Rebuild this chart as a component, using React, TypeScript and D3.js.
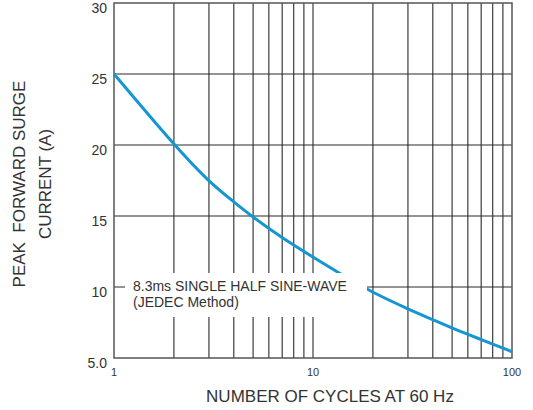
import React, { useEffect, useRef } from 'react';
import * as d3 from 'd3';

const cycles = [1, 2, 3, 4, 5, 7, 10, 15, 20, 30, 40, 50, 70, 100];
const current = [25, 20, 17.4, 16.0, 14.9, 13.45, 12.1, 10.6, 9.6, 8.45, 7.7, 7.1, 6.3, 5.44];
const yTicks = [5, 10, 15, 20, 25, 30];
const xLabels = [1, 10, 100];
const noteLines = ['8.3ms SINGLE HALF SINE-WAVE', '(JEDEC Method)'];

const W = 533;
const H = 410;
const left = 114;
const right = 512;
const top = 3;
const bottom = 358;

const App = () => {
  const svgRef = useRef<SVGSVGElement>(null);

  useEffect(() => {
    const svg = d3.select(svgRef.current);
    svg.selectAll('*').remove();

    const x = d3.scaleLog().domain([1, 100]).range([left, right]);
    const y = d3.scaleLinear().domain([5, 30]).range([bottom, top]);
    const font = 'Liberation Sans, Arial, sans-serif';

    // vertical grid: 2..9, 10, 20..90
    const vgrid: number[] = [];
    for (let d = 1; d < 100; d *= 10) {
      for (let k = 2; k <= 10; k++) vgrid.push(k * d);
    }
    svg
      .append('g')
      .selectAll('line')
      .data(vgrid.filter((v) => v < 100))
      .join('line')
      .attr('x1', (d) => x(d))
      .attr('x2', (d) => x(d))
      .attr('y1', top)
      .attr('y2', bottom)
      .attr('stroke', '#2a2a2a')
      .attr('stroke-width', 1.1);

    svg
      .append('g')
      .selectAll('line')
      .data(yTicks.slice(1, -1))
      .join('line')
      .attr('x1', left)
      .attr('x2', right)
      .attr('y1', (d) => y(d))
      .attr('y2', (d) => y(d))
      .attr('stroke', '#2a2a2a')
      .attr('stroke-width', 1.1);

    svg
      .append('rect')
      .attr('x', left)
      .attr('y', top)
      .attr('width', right - left)
      .attr('height', bottom - top)
      .attr('fill', 'none')
      .attr('stroke', '#555')
      .attr('stroke-width', 1.5);

    const line = d3
      .line<number>()
      .x((_, i) => x(cycles[i]))
      .y((d) => y(d))
      .curve(d3.curveBasis);

    svg
      .append('path')
      .attr('d', line(current))
      .attr('fill', 'none')
      .attr('stroke', '#1496d4')
      .attr('stroke-width', 3);

    // note box
    svg
      .append('rect')
      .attr('x', 125)
      .attr('y', 273)
      .attr('width', 242)
      .attr('height', 44)
      .attr('fill', '#fff');

    svg
      .append('g')
      .selectAll('text')
      .data(noteLines)
      .join('text')
      .attr('x', 133)
      .attr('y', (_, i) => 291 + i * 16)
      .attr('font-family', font)
      .attr('font-size', 14)
      .attr('fill', '#333')
      .text((d) => d);

    svg
      .append('g')
      .selectAll('text')
      .data(yTicks)
      .join('text')
      .attr('x', 107)
      .attr('y', (d) => y(d) + 10)
      .attr('text-anchor', 'end')
      .attr('font-family', font)
      .attr('font-size', 14)
      .attr('fill', '#333')
      .text((d) => (d === 5 ? '5.0' : String(d)));

    svg
      .append('g')
      .selectAll('text')
      .data(xLabels)
      .join('text')
      .attr('x', (d) => x(d))
      .attr('y', 376)
      .attr('text-anchor', 'middle')
      .attr('font-family', font)
      .attr('font-size', 11)
      .attr('fill', '#333')
      .text((d) => String(d));

    svg
      .append('text')
      .attr('x', 330)
      .attr('y', 402)
      .attr('text-anchor', 'middle')
      .attr('font-family', font)
      .attr('font-size', 17)
      .attr('fill', '#333')
      .text('NUMBER OF CYCLES AT 60 Hz');

    const yTitle = ['PEAK\u00a0\u00a0FORWARD SURGE', 'CURRENT (A)'];
    svg
      .append('g')
      .attr('transform', 'translate(0,184) rotate(-90)')
      .selectAll('text')
      .data(yTitle)
      .join('text')
      .attr('x', 0)
      .attr('y', (_, i) => 25 + i * 26)
      .attr('text-anchor', 'middle')
      .attr('font-family', font)
      .attr('font-size', 17)
      .attr('fill', '#333')
      .text((d) => d);
  }, []);

  return (
    <svg
      ref={svgRef}
      width={W}
      height={H}
      style={{ position: 'absolute', left: 0, top: 0, background: '#fff' }}
    />
  );
};

export default App;
